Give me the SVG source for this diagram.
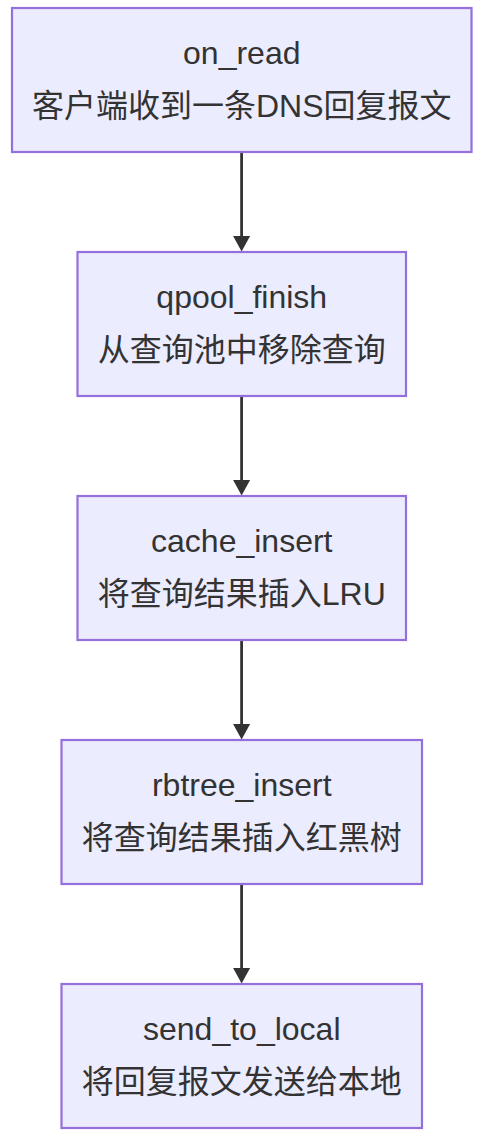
<svg xmlns="http://www.w3.org/2000/svg" width="478" height="1140" viewBox="0 0 478 1140">
<defs>
<style>
.box{fill:#ECECFF;stroke:#9370DB;stroke-width:2.2}
.t{font-family:"Liberation Sans","Noto Sans CJK SC",sans-serif;font-size:32px;fill:#333333;text-anchor:middle}
.edge{stroke:#333333;stroke-width:2.8;fill:none}
.head{fill:#333333}
</style>
</defs>
<rect width="478" height="1140" fill="#ffffff"/>
<g id="connectors">
<path class="edge" d="M241.6,152 L241.6,238"/>
<path class="head" d="M233.1,236 L250.1,236 L241.6,251.5 z"/>
<path class="edge" d="M241.6,396 L241.6,482"/>
<path class="head" d="M233.1,480 L250.1,480 L241.6,495.5 z"/>
<path class="edge" d="M241.6,640 L241.6,726"/>
<path class="head" d="M233.1,724 L250.1,724 L241.6,739.5 z"/>
<path class="edge" d="M241.6,884 L241.6,970"/>
<path class="head" d="M233.1,968 L250.1,968 L241.6,983.5 z"/>
</g>
<g id="on_read">
<rect class="box" x="12" y="8" width="459.5" height="144"/>
<text class="t" x="241.75" y="64">on_read</text>
<text class="t" x="241.75" y="116.5">客户端收到一条DNS回复报文</text>
</g>
<g id="qpool_finish">
<rect class="box" x="77.5" y="252" width="328.5" height="144"/>
<text class="t" x="241.75" y="308">qpool_finish</text>
<text class="t" x="241.75" y="360.5">从查询池中移除查询</text>
</g>
<g id="cache_insert">
<rect class="box" x="77.5" y="496" width="328.5" height="144"/>
<text class="t" x="241.75" y="552">cache_insert</text>
<text class="t" x="241.75" y="604.5">将查询结果插入LRU</text>
</g>
<g id="rbtree_insert">
<rect class="box" x="61.5" y="740" width="360.5" height="144"/>
<text class="t" x="241.75" y="796">rbtree_insert</text>
<text class="t" x="241.75" y="848.5">将查询结果插入红黑树</text>
</g>
<g id="send_to_local">
<rect class="box" x="61.5" y="984" width="360.5" height="144"/>
<text class="t" x="241.75" y="1040">send_to_local</text>
<text class="t" x="241.75" y="1092.5">将回复报文发送给本地</text>
</g>
</svg>
